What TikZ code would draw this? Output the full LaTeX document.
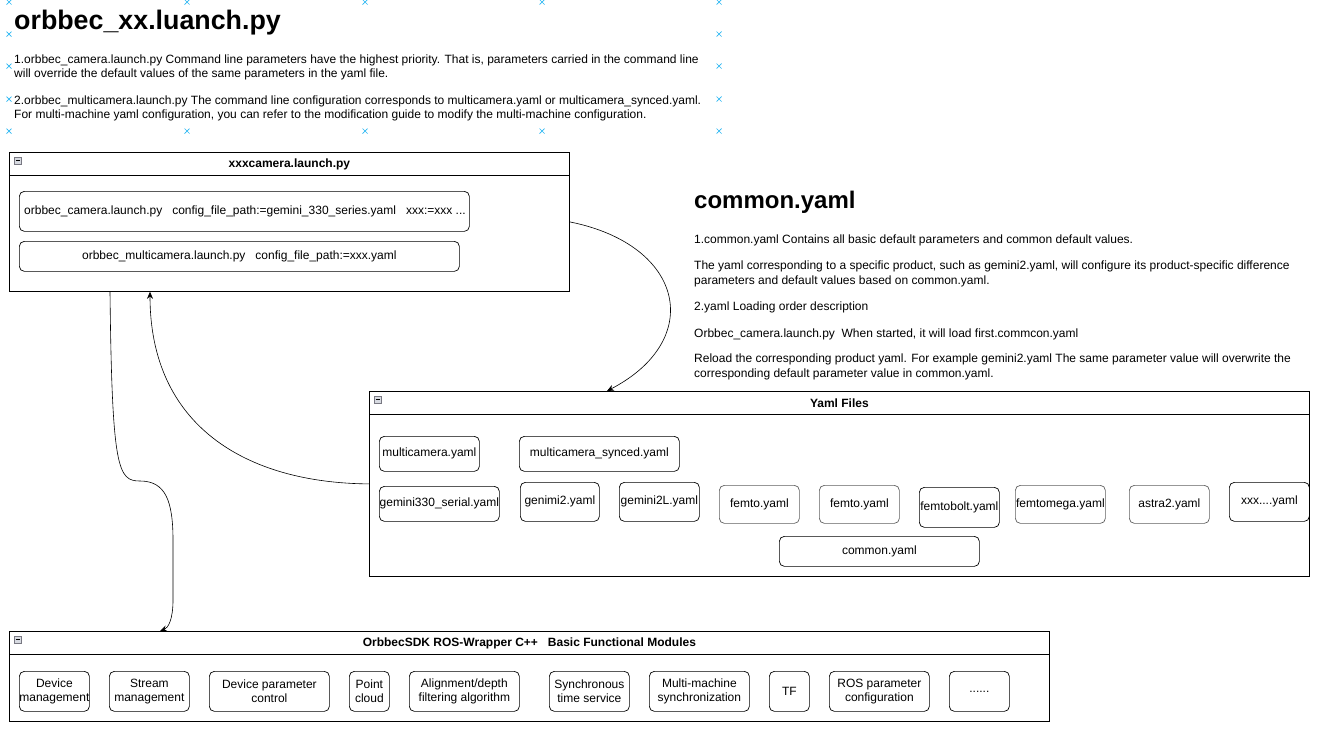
\documentclass[tikz,border=0pt]{standalone}
\usepackage{fontspec}
\setmainfont{Liberation Sans}
\usetikzlibrary{arrows.meta}

\definecolor{handleblue}{RGB}{41,182,242}
\definecolor{icongray}{RGB}{120,120,130}
\definecolor{iconfill}{RGB}{215,218,225}
\definecolor{boxgray}{RGB}{95,95,95}

\tikzset{
  txt/.style={font=\fontsize{12}{14.5}\selectfont},
  panel/.style={draw, anchor=north west, inner sep=0pt, line width=0.8pt},
  item/.style={draw, rounded corners=5pt, anchor=north west, inner sep=0pt,
               align=center, line width=0.7pt, txt},
  para/.style={anchor=west, align=left, inner sep=0pt, txt},
  handle/.style={draw=handleblue, line width=0.7pt},
  link/.style={-{Stealth[length=7pt,width=6pt]}, line width=0.6pt},
}

% header strip of a panel: rule, collapse icon, title
\newcommand{\paneltop}[2]{
  \draw[line width=0.8pt] ([yshift=-23pt]#1.north west) -- ([yshift=-23pt]#1.north east);
  \draw[draw=icongray, fill=iconfill, line width=0.5pt]
    ([xshift=5pt,yshift=-5pt]#1.north west) rectangle ([xshift=12pt,yshift=-12pt]#1.north west);
  \draw[line width=0.7pt] ([xshift=6.5pt,yshift=-8.5pt]#1.north west) -- ([xshift=10.5pt,yshift=-8.5pt]#1.north west);
  \node[txt, font=\fontsize{12}{14}\selectfont\bfseries] (#1-title) at ([yshift=-12pt]#1.north) {#2};
}

\begin{document}
\begin{tikzpicture}[x=1pt, y=-1pt]
  \useasboundingbox (0,0) rectangle (1320,732);

  % selection handles round the top text block
  \foreach \x in {9,187,365,542,719}
    \foreach \y in {2,131}
      {\draw[handle] (\x-2.5,\y-2.5) -- (\x+2.5,\y+2.5) (\x-2.5,\y+2.5) -- (\x+2.5,\y-2.5);}
  \foreach \x in {9,719}
    \foreach \y in {34,66,99}
      {\draw[handle] (\x-2.5,\y-2.5) -- (\x+2.5,\y+2.5) (\x-2.5,\y+2.5) -- (\x+2.5,\y-2.5);}

  % launch file notes
  \node[anchor=base west, inner sep=0pt, font=\fontsize{26.8}{32}\selectfont\bfseries] (launchhead) at (14,29) {orbbec\_xx.luanch.py};
  \node[para] (launchp1) at (14,67.5) {1.orbbec\_camera.launch.py Command line parameters have the highest priority. That is, parameters carried in the command line\\
    will override the default values of the same parameters in the yaml file.};
  \node[para] (launchp2) at (14,108.5) {2.orbbec\_multicamera.launch.py The command line configuration corresponds to multicamera.yaml or multicamera\_synced.yaml.\\
    For multi-machine yaml configuration, you can refer to the modification guide to modify the multi-machine configuration.};

  % common.yaml notes
  \node[anchor=base west, inner sep=0pt, font=\fontsize{24}{29}\selectfont\bfseries] (commonhead) at (694,208) {common.yaml};
  \node[para] (commonp1) at (694,240.5) {1.common.yaml Contains all basic default parameters and common default values.};
  \node[para] (commonp2) at (694,274) {The yaml corresponding to a specific product, such as gemini2.yaml, will configure its product-specific difference\\
    parameters and default values based on common.yaml.};
  \node[para] (commonp3) at (694,307.5) {2.yaml Loading order description};
  \node[para] (commonp4) at (694,334.5) {Orbbec\_camera.launch.py\ \ When started, it will load first.commcon.yaml};
  \node[para] (commonp5) at (694,367) {Reload the corresponding product yaml. For example gemini2.yaml The same parameter value will overwrite the\\
    corresponding default parameter value in common.yaml.};

  % xxxcamera.launch.py
  \node[panel, minimum width=560pt, minimum height=139pt] (cam) at (9,152) {};
  \paneltop{cam}{xxxcamera.launch.py}
  \node[item, minimum width=450pt, minimum height=40pt] (camsingle) at (19,191) {};
  \node[txt, anchor=west, inner sep=0pt] (camsingle-text) at ([xshift=5pt]camsingle.west)
    {orbbec\_camera.launch.py\ \ \ config\_file\_path:=gemini\_330\_series.yaml\ \ \ xxx:=xxx ...};
  \node[item, minimum width=440pt, minimum height=30pt] (cammulti) at (19,241)
    {orbbec\_multicamera.launch.py\ \ \ config\_file\_path:=xxx.yaml};

  % Yaml Files
  \node[panel, minimum width=940pt, minimum height=185pt] (yaml) at (369,391) {};
  \paneltop{yaml}{Yaml Files}
  \foreach \n/\x/\y/\w/\h/\c/\lbl in {
      ymc/379/436/100/35/black/{multicamera.yaml},
      ysync/519/436/160/35/black/{multicamera\_synced.yaml},
      yg330/379/486/120/35/black/{gemini330\_serial.yaml},
      yg2/520/482/79/39/black/{genimi2.yaml},
      yg2l/619/482/80/39/black/{gemini2L.yaml},
      yfa/719/485/80/38/boxgray/{femto.yaml},
      yfb/819/485/80/38/boxgray/{femto.yaml},
      yfbolt/919/487/80/40/black/{femtobolt.yaml},
      yfmega/1015/485/90/38/boxgray/{femtomega.yaml},
      yastra/1129/485/80/38/boxgray/{astra2.yaml},
      yxxx/1229/482/80/39/black/{xxx....yaml},
      ycommon/779/536/200/30/black/{common.yaml}}
    {\node[item, draw=\c, minimum width=\w pt, minimum height=\h pt] (\n) at (\x,\y) {\lbl};}

  % OrbbecSDK ROS-Wrapper modules
  \node[panel, minimum width=1040pt, minimum height=90pt] (sdk) at (9,631) {};
  \paneltop{sdk}{OrbbecSDK ROS-Wrapper C++\ \ \ Basic Functional Modules}
  \foreach \n/\x/\w/\lbl in {
      mdev/19/70/{Device\\management},
      mstream/109/80/{Stream\\management},
      mparam/209/120/{Device parameter\\control},
      mcloud/349/40/{Point\\cloud},
      malign/409/110/{Alignment/depth\\filtering algorithm},
      msync/549/80/{Synchronous\\time service},
      mmulti/649/100/{Multi-machine\\synchronization},
      mtf/769/40/{TF},
      mros/829/100/{ROS parameter\\configuration},
      mmore/949/60/{......}}
    {\node[item, minimum width=\w pt, minimum height=40pt] (\n) at (\x,671) {\lbl};}

  % connectors
  \draw[link] (cam.east) .. controls (685,245) and (705,340) .. ([xshift=238pt]yaml.north west);
  \draw[link] (yaml.west) .. controls (245,483) and (150,425) .. ([xshift=141pt]cam.south west);
  \draw[link] ([xshift=101pt]cam.south west) .. controls (112,470) and (118,481) .. (140,481)
    .. controls (165,481) and (173,500) .. (173,540) -- (173,600)
    .. controls (173,620) and (168,628) .. ([xshift=151pt]sdk.north west);
\end{tikzpicture}
\end{document}
